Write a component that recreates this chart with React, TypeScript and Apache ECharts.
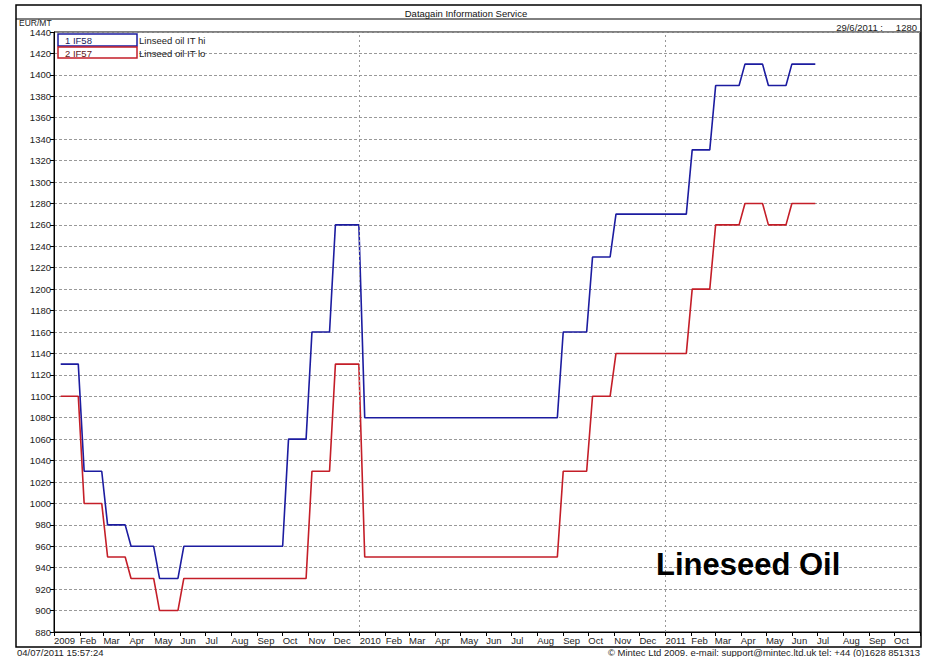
import React, { useEffect, useRef } from "react";
import * as echarts from "echarts";

// Weekly breakpoints of the two price series (EUR/MT)
const dates = [
  "2009-01-09", "2009-01-30", "2009-02-06", "2009-02-27", "2009-03-06", "2009-03-27",
  "2009-04-03", "2009-04-30", "2009-05-07", "2009-05-29", "2009-06-05", "2009-10-01",
  "2009-10-08", "2009-10-29", "2009-11-05", "2009-11-26", "2009-12-03", "2009-12-31",
  "2010-01-07", "2010-08-25", "2010-09-01", "2010-09-29", "2010-10-06", "2010-10-27",
  "2010-11-03", "2011-01-26", "2011-02-02", "2011-02-23", "2011-03-02", "2011-03-30",
  "2011-04-06", "2011-04-27", "2011-05-04", "2011-05-25", "2011-06-01", "2011-06-29",
];
const hiValues = [
  1130, 1130, 1030, 1030, 980, 980,
  960, 960, 930, 930, 960, 960,
  1060, 1060, 1160, 1160, 1260, 1260,
  1080, 1080, 1160, 1160, 1230, 1230,
  1270, 1270, 1330, 1330, 1390, 1390,
  1410, 1410, 1390, 1390, 1410, 1410,
];
const loValues = [
  1100, 1100, 1000, 1000, 950, 950,
  930, 930, 900, 900, 930, 930,
  930, 930, 1030, 1030, 1130, 1130,
  950, 950, 1030, 1030, 1100, 1100,
  1140, 1140, 1200, 1200, 1260, 1260,
  1280, 1280, 1260, 1260, 1280, 1280,
];
const monthNames = ["Jan", "Feb", "Mar", "Apr", "May", "Jun", "Jul", "Aug", "Sep", "Oct", "Nov", "Dec"];
const yearLines = ["2010-01-01", "2011-01-01"];
const xMin = "2009-01-01";
const xMax = "2011-11-01";
const yMin = 880;
const yMax = 1440;
const yStep = 20;

const FONT = "'Liberation Sans', Arial, sans-serif";
const BLUE = "#1c1ca0";
const RED = "#c41e28";

export default function App() {
  const ref = useRef<HTMLDivElement>(null);
  useEffect(() => {
    if (!ref.current) return;
    const chart = echarts.init(ref.current, null, { renderer: "svg" });
    const hiData = dates.map((d, i) => [d, hiValues[i]]);
    const loData = dates.map((d, i) => [d, loValues[i]]);
    const maxTs = (echarts as any).time.parse(xMax).getTime();
    const txt = (x: number, y: number, text: string, extra: any = {}) => ({
      type: "text",
      x,
      y,
      z: 100,
      style: {
        text,
        fontFamily: FONT,
        fontSize: 9.5,
        fill: "#222",
        verticalAlign: "middle",
        align: "left",
        ...extra,
      },
    });
    chart.setOption({
      animation: false,
      backgroundColor: "#fff",
      grid: {
        left: 54,
        right: 6,
        top: 32,
        bottom: 25,
        show: true,
        borderColor: "#000",
        borderWidth: 1,
        backgroundColor: "transparent",
        containLabel: false,
        outerBoundsMode: "none",
      },
      xAxis: {
        type: "time",
        min: xMin,
        max: xMax,
        splitNumber: 34,
        minInterval: 28 * 86400000,
        maxInterval: 31 * 86400000,
        axisLine: { show: true, lineStyle: { color: "#000", width: 1 } },
        axisTick: { show: true, length: 4, lineStyle: { color: "#000" } },
        splitLine: { show: false },
        axisLabel: {
          show: true,
          align: "left",
          margin: 3,
          fontSize: 9.5,
          fontFamily: FONT,
          color: "#222",
          showMaxLabel: false,
          hideOverlap: false,
          formatter: (v: number) => {
            if (v >= maxTs) return "";
            const d = new Date(v);
            return d.getMonth() === 0 ? String(d.getFullYear()) : monthNames[d.getMonth()];
          },
          rich: { primary: { fontWeight: "normal" } },
        },
      },
      yAxis: {
        type: "value",
        min: yMin,
        max: yMax,
        interval: yStep,
        axisLine: { show: true, lineStyle: { color: "#000", width: 1 } },
        axisTick: { show: true, length: 4, lineStyle: { color: "#000" } },
        axisLabel: {
          fontSize: 9.5,
          fontFamily: FONT,
          color: "#222",
          margin: 3,
          formatter: (v: number) => String(v),
        },
        splitLine: { show: true, lineStyle: { color: "#999", type: [3, 2], width: 1 } },
      },
      series: [
        {
          name: "Linseed oil IT hi",
          type: "line",
          data: hiData,
          symbol: "none",
          lineStyle: { color: BLUE, width: 1.6 },
          itemStyle: { color: BLUE },
          z: 3,
          markLine: {
            silent: true,
            symbol: ["none", "none"],
            label: { show: false },
            lineStyle: { color: "#999", type: [2, 3], width: 1 },
            data: yearLines.map((d) => ({ xAxis: d })),
          },
        },
        {
          name: "Linseed oil IT lo",
          type: "line",
          data: loData,
          symbol: "none",
          lineStyle: { color: RED, width: 1.6 },
          itemStyle: { color: RED },
          z: 3,
        },
      ],
      graphic: [
        {
          type: "rect",
          shape: { x: 16, y: 5, width: 905, height: 642 },
          style: { fill: "none", stroke: "#000", lineWidth: 1.5 },
          z: 100,
        },
        {
          type: "line",
          shape: { x1: 16, y1: 19, x2: 921, y2: 19 },
          style: { stroke: "#000", lineWidth: 1 },
          z: 100,
        },
        txt(466, 13, "Datagain Information Service", { align: "center", fill: "#111" }),
        txt(19, 22.5, "EUR/MT", { fontSize: 8.5 }),
        txt(883, 27, "29/6/2011 :", { align: "right" }),
        txt(917, 27, "1280", { align: "right" }),
        txt(17, 652, "04/07/2011 15:57:24"),
        txt(920, 652, "\u00a9 Mintec Ltd 2009. e-mail: support@mintec.ltd.uk tel: +44 (0)1628 851313", { align: "right" }),
        {
          type: "rect",
          z: 100,
          shape: { x: 58, y: 34, width: 79, height: 12 },
          style: { fill: "#fff", stroke: BLUE, lineWidth: 1.5 },
        },
        {
          type: "rect",
          z: 100,
          shape: { x: 58, y: 47, width: 79, height: 11 },
          style: { fill: "#fff", stroke: RED, lineWidth: 1.5 },
        },
        txt(65, 40, "1 IF58", { fill: "#1a1a60" }),
        txt(65, 53, "2 IF57", { fill: "#602020" }),
        txt(139, 40, "Linseed oil IT hi"),
        txt(139, 53, "Linseed oil IT lo"),
        txt(656, 564, "Lineseed Oil", { fontSize: 31, fontWeight: "bold", fill: "#000" }),
      ],
    });
    return () => chart.dispose();
  }, []);
  return (
    <div
      ref={ref}
      style={{ position: "fixed", left: 0, top: 0, width: 926, height: 657, background: "#fff" }}
    />
  );
}
